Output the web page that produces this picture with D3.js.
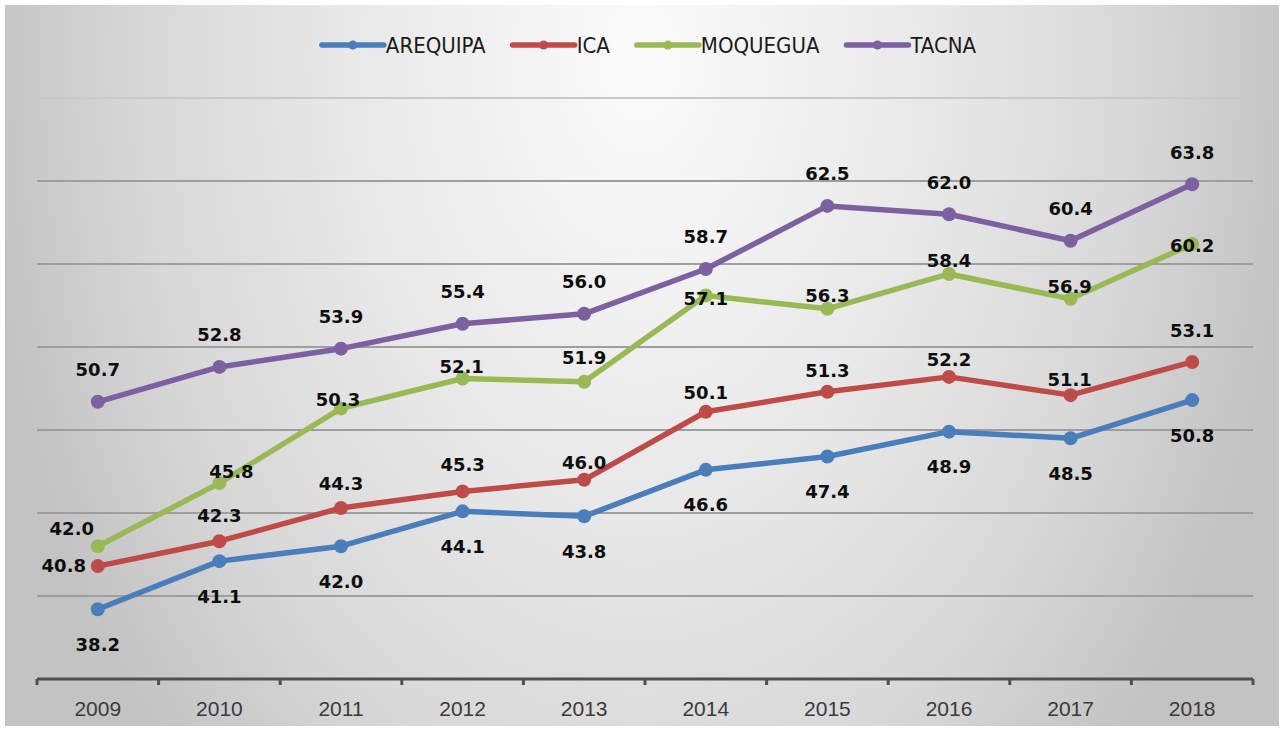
<!DOCTYPE html>
<html>
<head>
<meta charset="utf-8">
<script src="https://cdn.jsdelivr.net/npm/d3@7"></script>
<style>
  html, body { margin: 0; padding: 0; background: #fff; }
  svg { display: block; }
</style>
</head>
<body>
<div id="chart"></div>
<script>
// data
const years = ["2009", "2010", "2011", "2012", "2013", "2014", "2015", "2016", "2017", "2018"];
const seriesNames = ["AREQUIPA", "ICA", "MOQUEGUA", "TACNA"];
const arequipa = [38.2, 41.1, 42.0, 44.1, 43.8, 46.6, 47.4, 48.9, 48.5, 50.8];
const ica      = [40.8, 42.3, 44.3, 45.3, 46.0, 50.1, 51.3, 52.2, 51.1, 53.1];
const moquegua = [42.0, 45.8, 50.3, 52.1, 51.9, 57.1, 56.3, 58.4, 56.9, 60.2];
const tacna    = [50.7, 52.8, 53.9, 55.4, 56.0, 58.7, 62.5, 62.0, 60.4, 63.8];
const yTicks = [34, 39, 44, 49, 54, 59, 64, 69];

const colors = ["#4A7EBB", "#BE4B48", "#98B954", "#7D60A0"];

// label nudges (text centre relative to the point), hand placed like the original
const labelOffsets = {
  AREQUIPA: years.map(() => [0, 35]),
  ICA: [[-34, -1], [0, -26], [0, -25], [0, -27], [0, -17], [0, -19], [0, -21], [0, -17], [-1, -16], [0, -31]],
  MOQUEGUA: [[-26, -18], [12, -12], [-3, -9], [-1, -12], [0, -24], [0, 3], [0, -13], [0, -13], [-1, -12], [0, 1]],
  TACNA: years.map(() => [0, -32])
};

const W = 1284, H = 731;
const margin = {top: 98, right: 31, bottom: 52, left: 37};

const svg = d3.select("#chart").append("svg")
  .attr("width", W)
  .attr("height", H);

// background panel with a soft radial gradient
const defs = svg.append("defs");
const grad = defs.append("radialGradient")
  .attr("id", "bg")
  .attr("gradientUnits", "userSpaceOnUse")
  .attr("cx", 0).attr("cy", 0).attr("r", 1)
  .attr("gradientTransform", "translate(640,60) scale(660,1000)");
grad.append("stop").attr("offset", 0).attr("stop-color", "#fbfbfb");
grad.append("stop").attr("offset", 0.45).attr("stop-color", "#e8e8e8");
grad.append("stop").attr("offset", 0.75).attr("stop-color", "#d8d8d8");
grad.append("stop").attr("offset", 1).attr("stop-color", "#c3c3c3");

svg.append("rect")
  .attr("x", 5).attr("y", 5)
  .attr("width", W - 10).attr("height", H - 10)
  .attr("fill", "url(#bg)");

const x = d3.scaleBand()
  .domain(years)
  .range([margin.left, W - margin.right]);

const y = d3.scaleLinear()
  .domain([34, 69])
  .range([H - margin.bottom, margin.top]);

// gridlines
svg.append("g")
  .selectAll("line")
  .data(yTicks.slice(1))
  .enter()
  .append("line")
    .attr("x1", margin.left)
    .attr("x2", W - margin.right)
    .attr("y1", d => y(d))
    .attr("y2", d => y(d))
    .attr("stroke", d => d === 69 ? "#c8c8c8" : "#9e9e9e")
    .attr("stroke-width", 2);

// x axis
const xAxis = svg.append("g")
  .attr("transform", "translate(0," + y(34) + ")");
xAxis.append("line")
  .attr("x1", margin.left).attr("x2", W - margin.right)
  .attr("stroke", "#505050").attr("stroke-width", 3);
const bounds = years.map(d => x(d)).concat([x(years[years.length - 1]) + x.bandwidth()]);
xAxis.selectAll(".tick")
  .data(bounds)
  .enter()
  .append("line")
    .attr("x1", d => d).attr("x2", d => d)
    .attr("y1", 0).attr("y2", 6)
    .attr("stroke", "#505050").attr("stroke-width", 3);
xAxis.selectAll(".lbl")
  .data(years)
  .enter()
  .append("text")
    .attr("x", d => x(d) + x.bandwidth() / 2)
    .attr("y", 37)
    .attr("text-anchor", "middle")
    .attr("font-family", "Liberation Sans, Arial, sans-serif")
    .attr("font-size", 21)
    .attr("fill", "#3a3a3a")
    .text(d => d);

const seriesData = [arequipa, ica, moquegua, tacna];
const cx = i => x(years[i]) + x.bandwidth() / 2;

const line = d3.line()
  .x((d, i) => cx(i))
  .y(d => y(d));

seriesData.forEach((vals, s) => {
  const g = svg.append("g");
  g.append("path")
    .datum(vals)
    .attr("fill", "none")
    .attr("stroke", colors[s])
    .attr("stroke-width", 5.5)
    .attr("stroke-linejoin", "round")
    .attr("d", line);
  g.selectAll("circle")
    .data(vals)
    .enter()
    .append("circle")
      .attr("cx", (d, i) => cx(i))
      .attr("cy", d => y(d))
      .attr("r", 7)
      .attr("fill", colors[s]);
});

// data labels drawn after all lines so they sit on top
seriesData.forEach((vals, s) => {
  const offs = labelOffsets[seriesNames[s]];
  svg.append("g")
    .selectAll("text")
    .data(vals)
    .enter()
    .append("text")
      .attr("x", (d, i) => cx(i) + offs[i][0])
      .attr("y", (d, i) => y(d) + offs[i][1])
      .attr("dy", "0.36em")
      .attr("text-anchor", "middle")
      .attr("font-family", "DejaVu Sans, sans-serif")
      .attr("font-weight", "bold")
      .attr("font-size", 18)
      .attr("fill", "#0d0d0d")
      .text(d => d.toFixed(1));
});

// legend
const legend = svg.append("g");
let lx = 0;
seriesNames.forEach((name, s) => {
  const item = legend.append("g").attr("transform", "translate(" + lx + ",0)");
  item.append("line")
    .attr("x1", 0).attr("x2", 62)
    .attr("stroke", colors[s]).attr("stroke-width", 5.5)
    .attr("stroke-linecap", "round");
  item.append("circle")
    .attr("cx", 31).attr("r", 4.5).attr("fill", colors[s]);
  const t = item.append("text")
    .attr("x", 64)
    .attr("dy", "0.36em")
    .attr("font-family", "Liberation Sans Narrow, DejaVu Sans Condensed, sans-serif")
    .attr("font-size", 22)
    .attr("fill", "#1a1a1a")
    .text(name);
  lx += 64 + t.node().getComputedTextLength() + 27;
});
const legendW = lx - 27;
legend.attr("transform", "translate(" + (649 - legendW / 2) + ",45)");
</script>
</body>
</html>
